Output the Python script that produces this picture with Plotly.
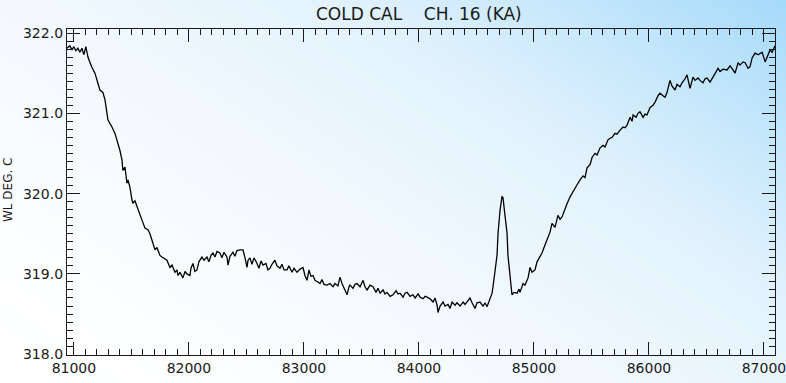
import numpy as np
import plotly.graph_objects as go

# sample position and cold-cal temperature (deg C)
x_vals = [
    80939, 80965, 80983, 81000, 81017, 81035, 81052, 81070, 81087, 81104,
    81122, 81154, 81183, 81209, 81226, 81252, 81270, 81296, 81313, 81331,
    81357, 81383, 81400, 81418, 81426, 81444, 81461, 81470, 81487, 81505,
    81513, 81531, 81557, 81574, 81592, 81618, 81644, 81661, 81679, 81705,
    81722, 81748, 81766, 81792, 81809, 81835, 81853, 81879, 81896, 81905,
    81922, 81948, 81966, 81983, 82009, 82018, 82035, 82052, 82070, 82087,
    82113, 82131, 82157, 82174, 82192, 82209, 82227, 82244, 82270, 82287,
    82305, 82331, 82340, 82357, 82383, 82400, 82418, 82444, 82470, 82488,
    82505, 82514, 82531, 82548, 82566, 82592, 82609, 82627, 82644, 82670,
    82687, 82705, 82722, 82748, 82766, 82792, 82809, 82827, 82853, 82870,
    82896, 82914, 82940, 82966, 82992, 83009, 83027, 83044, 83061, 83079,
    83096, 83122, 83140, 83157, 83174, 83200, 83227, 83253, 83270, 83296,
    83314, 83331, 83357, 83375, 83392, 83400, 83427, 83444, 83462, 83488,
    83514, 83531, 83549, 83575, 83601, 83627, 83644, 83662, 83688, 83705,
    83722, 83749, 83775, 83801, 83818, 83836, 83862, 83879, 83897, 83923,
    83949, 83967, 83993, 84010, 84036, 84053, 84071, 84097, 84123, 84140,
    84158, 84166, 84184, 84210, 84227, 84253, 84270, 84288, 84314, 84331,
    84358, 84384, 84401, 84427, 84444, 84462, 84488, 84505, 84531, 84557,
    84575, 84592, 84618, 84636, 84644, 84662, 84679, 84688, 84705, 84722,
    84731, 84748, 84766, 84774, 84792, 84809, 84827, 84853, 84870, 84879,
    84905, 84922, 84949, 84966, 84983, 85009, 85027, 85035, 85070, 85096,
    85122, 85140, 85157, 85183, 85209, 85227, 85244, 85270, 85287, 85314,
    85340, 85375, 85401, 85427, 85444, 85462, 85488, 85505, 85531, 85549,
    85575, 85601, 85618, 85644, 85662, 85679, 85705, 85722, 85749, 85775,
    85792, 85809, 85836, 85853, 85862, 85888, 85905, 85922, 85949, 85966,
    85983, 86009, 86035, 86053, 86079, 86096, 86122, 86140, 86157, 86183,
    86200, 86227, 86244, 86270, 86288, 86314, 86331, 86348, 86357, 86383,
    86401, 86427, 86444, 86470, 86488, 86505, 86531, 86557, 86575, 86601,
    86618, 86644, 86679, 86705, 86731, 86749, 86775, 86792, 86818, 86836,
    86862, 86879, 86897, 86923, 86949, 86984, 87010, 87027, 87053, 87070,
    87096,
]
temp_vals = [
    321.81, 321.84, 321.79, 321.83, 321.78, 321.81, 321.76, 321.81, 321.73, 321.83,
    321.70, 321.58, 321.50, 321.35, 321.29, 321.26, 321.17, 320.92, 320.88, 320.83,
    320.75, 320.63, 320.54, 320.42, 320.29, 320.33, 320.13, 320.17, 320.08, 319.92,
    319.88, 319.91, 319.79, 319.74, 319.67, 319.57, 319.55, 319.50, 319.42, 319.30,
    319.33, 319.23, 319.21, 319.18, 319.17, 319.08, 319.11, 319.02, 319.05, 318.98,
    319.02, 318.95, 319.03, 319.00, 318.98, 319.07, 319.13, 319.03, 319.05, 319.15,
    319.21, 319.17, 319.21, 319.15, 319.23, 319.26, 319.21, 319.28, 319.26, 319.20,
    319.27, 319.21, 319.11, 319.22, 319.27, 319.22, 319.29, 319.30, 319.30, 319.20,
    319.08, 319.17, 319.20, 319.12, 319.20, 319.13, 319.07, 319.16, 319.11, 319.13,
    319.05, 319.07, 319.12, 319.17, 319.10, 319.07, 319.12, 319.05, 319.05, 319.10,
    319.02, 319.07, 319.02, 319.06, 319.08, 318.98, 318.92, 319.05, 318.97, 318.98,
    318.92, 318.90, 318.88, 318.93, 318.87, 318.86, 318.88, 318.84, 318.88, 318.85,
    318.96, 318.88, 318.80, 318.74, 318.84, 318.86, 318.82, 318.87, 318.88, 318.84,
    318.92, 318.84, 318.80, 318.86, 318.84, 318.77, 318.82, 318.76, 318.80, 318.75,
    318.77, 318.72, 318.74, 318.79, 318.75, 318.76, 318.71, 318.76, 318.77, 318.72,
    318.74, 318.70, 318.75, 318.71, 318.69, 318.72, 318.71, 318.69, 318.65, 318.70,
    318.61, 318.52, 318.60, 318.65, 318.60, 318.62, 318.57, 318.65, 318.61, 318.64,
    318.60, 318.65, 318.62, 318.67, 318.70, 318.64, 318.57, 318.64, 318.65, 318.60,
    318.64, 318.59, 318.70, 318.76, 318.84, 319.01, 319.23, 319.51, 319.79, 319.96,
    319.95, 319.73, 319.51, 319.23, 318.92, 318.74, 318.77, 318.76, 318.81, 318.77,
    318.88, 318.86, 318.95, 319.08, 319.02, 319.05, 319.15, 319.17, 319.26, 319.36,
    319.46, 319.52, 319.63, 319.58, 319.73, 319.68, 319.71, 319.82, 319.87, 319.96,
    320.03, 320.11, 320.17, 320.22, 320.20, 320.32, 320.36, 320.45, 320.50, 320.48,
    320.57, 320.60, 320.58, 320.67, 320.69, 320.70, 320.75, 320.74, 320.79, 320.83,
    320.82, 320.85, 320.95, 320.90, 320.98, 320.95, 321.00, 321.02, 320.95, 320.99,
    320.98, 321.07, 321.10, 321.14, 321.22, 321.25, 321.22, 321.20, 321.26, 321.41,
    321.34, 321.29, 321.36, 321.33, 321.38, 321.43, 321.48, 321.39, 321.31, 321.45,
    321.41, 321.44, 321.41, 321.38, 321.43, 321.44, 321.39, 321.45, 321.50, 321.56,
    321.52, 321.55, 321.54, 321.59, 321.54, 321.50, 321.63, 321.60, 321.64, 321.63,
    321.56, 321.58, 321.69, 321.75, 321.73, 321.76, 321.64, 321.70, 321.79, 321.76,
    321.84,
]
x_ticks = [81000, 82000, 83000, 84000, 85000, 86000, 87000]
y_ticks = [318.0, 319.0, 320.0, 321.0, 322.0]

W, H = 786, 383
left, right, top, bottom = 67, 775, 29, 355
ink = "#1a1a1a"
font = dict(family="DejaVu Sans", size=14, color=ink)

fig = go.Figure()

# background: diagonal white -> light blue wash behind everything
gu = np.linspace(0, 1, 60)
gv = np.linspace(0, 1, 30)
U, V = np.meshgrid(gu, gv)
shade = (0.58 * U + 0.42 * V) ** 1.7
fig.add_trace(go.Heatmap(
    x=gu, y=gv, z=shade, zsmooth="best", showscale=False, hoverinfo="skip",
    colorscale=[[0, "#ffffff"], [0.5, "#e2f2fc"], [1, "#a4dafa"]],
    zmin=0, zmax=1, xaxis="x", yaxis="y",
))

fig.add_trace(go.Scatter(
    x=x_vals, y=temp_vals, mode="lines",
    line=dict(color="#000000", width=1.3),
    xaxis="x2", yaxis="y2", showlegend=False,
))

axis_common = dict(
    showgrid=False, zeroline=False, showline=True, linecolor=ink, linewidth=1.3,
    mirror="allticks", ticks="inside", ticklen=13, tickwidth=1.3, tickcolor=ink,
    tickfont=font, automargin=False, ticklabeloverflow="allow",
)

fig.update_layout(
    width=W, height=H,
    margin=dict(l=0, r=0, t=0, b=0, autoexpand=False),
    paper_bgcolor="#ffffff", plot_bgcolor="rgba(0,0,0,0)",
    showlegend=False,
    xaxis=dict(domain=[0, 1], range=[0, 1], visible=False, fixedrange=True,
               automargin=False),
    yaxis=dict(domain=[0, 1], range=[0, 1], visible=False, fixedrange=True,
               automargin=False),
    xaxis2=dict(
        domain=[left / W, right / W], anchor="y2",
        range=[80940, 87096], tickvals=x_ticks,
        ticktext=[str(v) for v in x_ticks],
        minor=dict(dtick=100, tick0=81000, ticks="inside", ticklen=6,
                   tickwidth=1.1, tickcolor=ink),
        **axis_common,
    ),
    yaxis2=dict(
        domain=[1 - bottom / H, 1 - top / H], anchor="x2",
        range=[317.99, 322.05], tickvals=y_ticks,
        ticktext=[f"{v:.1f}" for v in y_ticks],
        minor=dict(dtick=0.1, tick0=318, ticks="inside", ticklen=6,
                   tickwidth=1.1, tickcolor=ink),
        **axis_common,
    ),
    annotations=[
        dict(text="COLD CAL\u00a0\u00a0\u00a0\u00a0CH. 16 (KA)",
             xref="paper", yref="paper", x=419 / W, y=1 - 14 / H,
             showarrow=False, font=dict(family="DejaVu Sans", size=17, color=ink),
             xanchor="center", yanchor="middle"),
        dict(text="WL DEG. C", textangle=-90,
             xref="paper", yref="paper", x=8 / W, y=1 - 190 / H,
             showarrow=False, font=dict(family="DejaVu Sans", size=12, color=ink),
             xanchor="center", yanchor="middle"),
    ],
)

fig.write_html(
    "out.html",
    config={"displayModeBar": False},
    post_script="document.body.style.margin='0';document.body.style.overflow='hidden';",
)
